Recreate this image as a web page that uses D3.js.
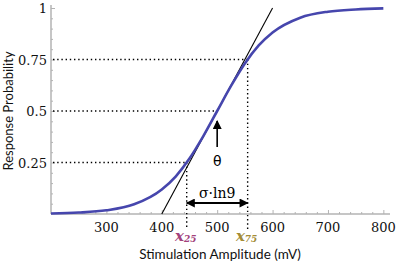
<!DOCTYPE html>
<html>
<head>
<meta charset="utf-8">
<script src="https://cdn.jsdelivr.net/npm/d3@7"></script>
<style>
  body { margin: 0; background: #fff; }
  svg { display: block; }
  .serif { font-family: "DejaVu Serif", serif; }
  .sans { font-family: Lato, "Open Sans", sans-serif; }
</style>
</head>
<body>
<svg id="chart" width="397" height="264"></svg>
<script>
// 数据：从图中读取
const curveX = [200, 250, 300, 350, 400, 425, 450, 475, 500, 525, 550, 575, 600, 650, 700, 750, 800];
const curveY = [0.0025, 0.007, 0.018, 0.047, 0.119, 0.182, 0.269, 0.378, 0.5, 0.622, 0.731, 0.818, 0.881, 0.953, 0.982, 0.993, 0.998];
const tangentX = [400, 600];
const tangentY = [0, 1];
const theta = 500;
const x25 = 445;
const x75 = 555;
const xTicks = [300, 400, 500, 600, 700, 800];
const yTicks = [0.25, 0.5, 0.75, 1];
const yTickLabels = ["0.25", "0.5", "0.75", "1"];

const svg = d3.select("#chart");

const x = d3.scaleLinear().domain([200, 812]).range([51, 390]);
const y = d3.scaleLinear().domain([0, 1]).range([214, 8]);

// 箭头
const defs = svg.append("defs");
defs.append("marker")
  .attr("id", "head")
  .attr("viewBox", "0 0 10 10")
  .attr("refX", 9).attr("refY", 5)
  .attr("markerUnits", "userSpaceOnUse")
  .attr("markerWidth", 10).attr("markerHeight", 9)
  .attr("orient", "auto-start-reverse")
  .append("path")
  .attr("d", "M0,0 L10,5 L0,10 Z")
  .attr("fill", "#000");

// 坐标轴（刻度朝内）
const axisColor = "#b3b3b3";
const gx = svg.append("g").attr("transform", `translate(0,${y(0)})`);
gx.call(d3.axisBottom(x).tickValues(d3.range(220, 812, 20).filter(v => v % 100 !== 0)).tickSize(-2).tickFormat(""));
gx.call(g => g.append("g").call(d3.axisBottom(x).tickValues(xTicks).tickSize(-4).tickFormat("")));
gx.selectAll("path.domain").attr("stroke", axisColor).attr("d", `M${x(200)},0H${x(812)}`);
gx.selectAll("line").attr("stroke", axisColor);

const gy = svg.append("g").attr("transform", `translate(${x(200)},0)`);
gy.call(d3.axisLeft(y).tickValues(d3.range(0.05, 1.0001, 0.05).filter(v => Math.abs(v * 4 - Math.round(v * 4)) > 1e-6)).tickSize(-2).tickFormat(""));
gy.call(g => g.append("g").call(d3.axisLeft(y).tickValues(yTicks).tickSize(-4).tickFormat("")));
gy.selectAll("path.domain").attr("stroke", axisColor).attr("d", `M0,${y(0)}V${y(1) - 3}`);
gy.selectAll("line").attr("stroke", axisColor);

// 刻度标签
svg.append("g").selectAll("text").data(xTicks).join("text")
  .attr("class", "serif")
  .attr("x", d => x(d)).attr("y", 232)
  .attr("text-anchor", "middle")
  .attr("font-size", 13)
  .attr("fill", "#111")
  .text(d => d);

svg.append("g").selectAll("text").data(yTicks).join("text")
  .attr("class", "serif")
  .attr("x", 47).attr("y", d => y(d) + 5)
  .attr("text-anchor", "end")
  .attr("font-size", 13)
  .attr("fill", "#111")
  .text((d, i) => yTickLabels[i]);

// 虚线
const dotted = svg.append("g")
  .attr("stroke", "#000").attr("stroke-width", 1.4)
  .attr("stroke-dasharray", "1.4,2.8").attr("fill", "none");
[[0.25, x25], [0.5, theta], [0.75, x75]].forEach(([p, v]) => {
  dotted.append("line").attr("x1", x(200) + 2).attr("x2", x(v)).attr("y1", y(p)).attr("y2", y(p));
});
dotted.append("line").attr("x1", x(x25)).attr("x2", x(x25)).attr("y1", y(0.25)).attr("y2", 229);
dotted.append("line").attr("x1", x(x75)).attr("x2", x(x75)).attr("y1", y(0.75)).attr("y2", 231);

// 切线
svg.append("line")
  .attr("x1", x(tangentX[0])).attr("y1", y(tangentY[0]))
  .attr("x2", x(tangentX[1])).attr("y2", y(tangentY[1]))
  .attr("stroke", "#000").attr("stroke-width", 1.1);

// 曲线
const line = d3.line().x(d => x(d[0])).y(d => y(d[1])).curve(d3.curveMonotoneX);
svg.append("path")
  .datum(curveX.map((v, i) => [v, curveY[i]]))
  .attr("d", line)
  .attr("fill", "none")
  .attr("stroke", "#4646ad")
  .attr("stroke-width", 2.6);

// θ 箭头
svg.append("line")
  .attr("x1", x(theta)).attr("x2", x(theta))
  .attr("y1", 147).attr("y2", 121)
  .attr("stroke", "#000").attr("stroke-width", 1.6)
  .attr("marker-end", "url(#head)");
svg.append("text")
  .attr("x", x(theta)).attr("y", 166)
  .attr("text-anchor", "middle")
  .attr("font-family", "DejaVu Sans, sans-serif").attr("font-size", 14)
  .text("θ");

// σ·ln9 双箭头
svg.append("line")
  .attr("x1", x(x25)).attr("x2", x(x75))
  .attr("y1", 203).attr("y2", 203)
  .attr("stroke", "#000").attr("stroke-width", 2)
  .attr("marker-start", "url(#head)")
  .attr("marker-end", "url(#head)");
svg.append("text")
  .attr("class", "serif")
  .attr("x", (x(x25) + x(x75)) / 2).attr("y", 198)
  .attr("text-anchor", "middle")
  .attr("font-size", 14)
  .text("σ·ln9");

// x25 / x75 标签
function subLabel(v, sub, color) {
  const t = svg.append("text")
    .attr("class", "serif")
    .attr("x", x(v) - 1).attr("y", 241)
    .attr("text-anchor", "middle")
    .attr("font-style", "italic").attr("font-weight", "bold")
    .attr("fill", color);
  t.append("tspan").attr("font-size", 15).text("x");
  t.append("tspan").attr("font-size", 9).attr("dy", 1).text(sub);
}
subLabel(x25, "25", "#a3427c");
subLabel(x75, "75", "#a48c36");

// 轴标题
svg.append("text")
  .attr("class", "sans")
  .attr("x", 220).attr("y", 259)
  .attr("text-anchor", "middle")
  .attr("font-size", 13.5)
  .attr("fill", "#111")
  .text("Stimulation Amplitude (mV)");
svg.append("text")
  .attr("class", "sans")
  .attr("transform", `translate(13,${y(0.5)}) rotate(-90)`)
  .attr("text-anchor", "middle")
  .attr("font-size", 13)
  .attr("fill", "#111")
  .text("Response Probability");
</script>
</body>
</html>
